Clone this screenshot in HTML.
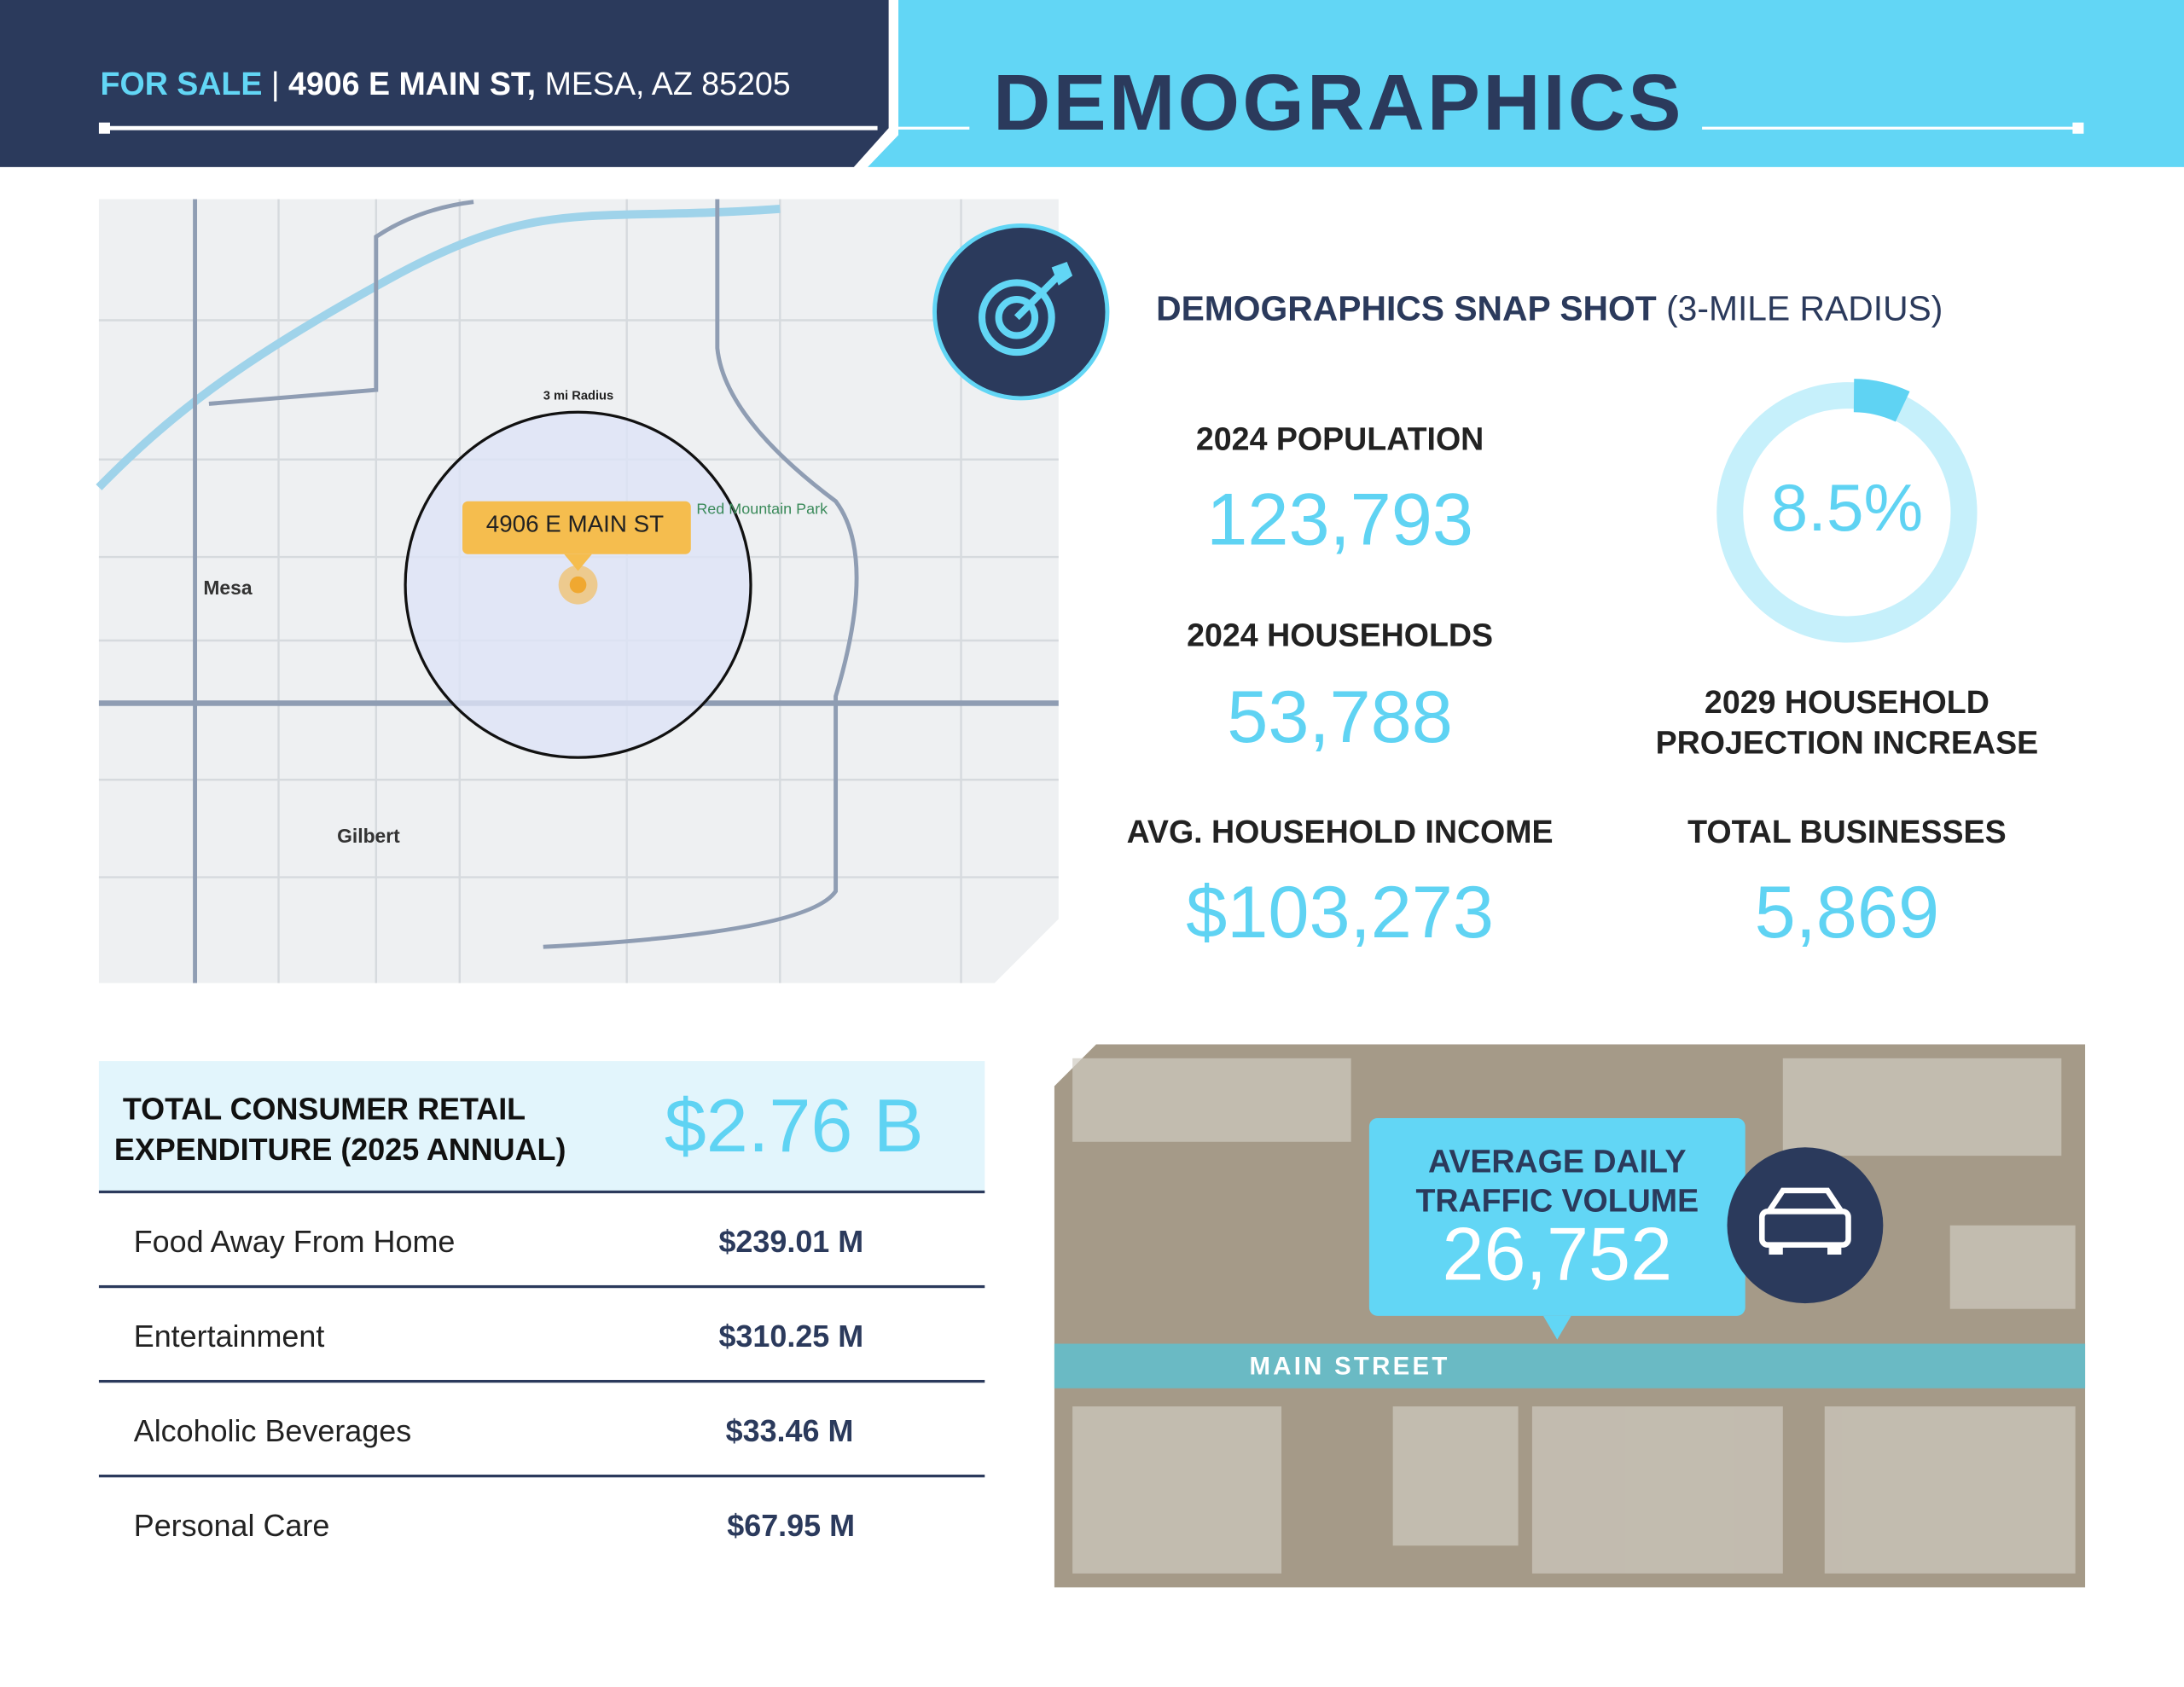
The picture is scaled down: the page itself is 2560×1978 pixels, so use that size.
<!DOCTYPE html>
<html><head><meta charset="utf-8"><style>
*{margin:0;padding:0;box-sizing:border-box}
body{width:2560px;height:1978px;overflow:hidden;background:#fff;font-family:"Liberation Sans",sans-serif}
#s{width:1568px;height:1211px;transform:scale(1.63265);transform-origin:0 0;position:relative}
.a{position:absolute;white-space:nowrap}
.lab{font-weight:bold;color:#222;font-size:23px;text-align:center}
.num{color:#5fd3f3;font-size:53px;text-align:center}
.row{position:absolute;left:71px;width:636px;height:68px;border-bottom:2px solid #2b3a5c;font-size:22px;color:#222}
.row span{position:absolute;top:22px}
.row b{position:absolute;top:22px;left:445px;color:#2b3a5c}
</style></head><body><div id="s">
<svg class="a" style="left:0;top:0" width="1568" height="1211">
<polygon points="0,0 638,0 638,92 613,120 0,120" fill="#2b3a5c"/>
<polygon points="645,0 1568,0 1568,120 623,120 645,97" fill="#62d6f5"/>
<line x1="75" y1="92" x2="630" y2="92" stroke="#fff" stroke-width="3"/>
<rect x="71" y="88" width="8" height="8" fill="#fff"/>
<line x1="640" y1="92" x2="696" y2="92" stroke="#fff" stroke-width="2"/>
<line x1="1222" y1="92" x2="1492" y2="92" stroke="#fff" stroke-width="2"/>
<rect x="1488" y="88" width="8" height="8" fill="#fff"/>
<polygon points="71,143 760,143 760,660 714,706 71,706" fill="#eef0f2"/>
<g stroke="#d6dade" stroke-width="1.5">
<line x1="71" y1="230" x2="760" y2="230"/><line x1="71" y1="330" x2="760" y2="330"/><line x1="71" y1="400" x2="760" y2="400"/><line x1="71" y1="460" x2="760" y2="460"/><line x1="71" y1="560" x2="760" y2="560"/><line x1="71" y1="630" x2="760" y2="630"/>
<line x1="200" y1="143" x2="200" y2="706"/><line x1="270" y1="143" x2="270" y2="706"/><line x1="330" y1="143" x2="330" y2="706"/><line x1="450" y1="143" x2="450" y2="706"/><line x1="560" y1="143" x2="560" y2="706"/><line x1="690" y1="143" x2="690" y2="706"/>
</g>
<path d="M71,350 C120,300 170,260 280,200 S420,160 560,150" stroke="#9fd3ea" stroke-width="6" fill="none"/>
<path d="M71,505 L760,505" stroke="#8f9db3" stroke-width="4"/>
<path d="M140,143 L140,706" stroke="#8f9db3" stroke-width="3"/>
<path d="M515,143 L515,250 Q520,300 600,360 Q630,400 600,500 L600,640 Q580,670 390,680" stroke="#8f9db3" stroke-width="3" fill="none"/>
<path d="M150,290 L270,280 L270,170 Q300,150 340,145" stroke="#8f9db3" stroke-width="3" fill="none"/>
<circle cx="415" cy="420" r="124" fill="#dde3f6" fill-opacity=".8" stroke="#111" stroke-width="2"/>
<circle cx="415" cy="420" r="14" fill="#f5b84a" fill-opacity=".6"/>
<circle cx="415" cy="420" r="6" fill="#f0a830"/>
<rect x="332" y="360" width="164" height="38" rx="4" fill="#f5bd4e"/>
<polygon points="405,398 425,398 415,410" fill="#f5bd4e"/>
<circle cx="733" cy="224" r="62" fill="#2b3a5c" stroke="#62d6f5" stroke-width="3"/>
<g fill="none" stroke="#62d6f5" stroke-width="5"><circle cx="730" cy="228" r="25"/><circle cx="730" cy="228" r="13"/><line x1="730" y1="228" x2="762" y2="196"/></g>
<polygon points="755,192 766,188 770,198 760,205" fill="#62d6f5"/>
<circle cx="1326" cy="368" r="84" fill="none" stroke="#c6f0fb" stroke-width="19"/>
<path d="M1331,284 A84,84 0 0 1 1366,292" fill="none" stroke="#5fd3f3" stroke-width="24"/>
<rect x="71" y="762" width="636" height="94" fill="#e2f5fc"/>
<line x1="71" y1="856" x2="707" y2="856" stroke="#2b3a5c" stroke-width="2"/>
<polygon points="787,750 1497,750 1497,1140 757,1140 757,780" fill="#a59a88"/>
<g fill="#cfcac0" opacity=".7">
<rect x="770" y="760" width="200" height="60"/><rect x="1280" y="760" width="200" height="70"/><rect x="770" y="1010" width="150" height="120"/><rect x="1100" y="1010" width="180" height="120"/><rect x="1310" y="1010" width="180" height="120"/><rect x="1400" y="880" width="90" height="60"/><rect x="1000" y="1010" width="90" height="100"/>
</g>
<rect x="757" y="965" width="740" height="32" fill="#5fbfcf" opacity=".85"/>
<rect x="983" y="803" width="270" height="142" rx="6" fill="#62d6f5"/>
<polygon points="1108,945 1128,945 1118,962" fill="#62d6f5"/>
<circle cx="1296" cy="880" r="56" fill="#2b3a5c"/>
<g fill="none" stroke="#fff" stroke-width="4"><path d="M1270,870 L1280,855 L1312,855 L1322,870 Z"/><rect x="1265" y="870" width="62" height="24" rx="4"/></g>
<rect x="1270" y="893" width="10" height="8" fill="#fff"/><rect x="1312" y="893" width="10" height="8" fill="#fff"/>
</svg>
<div class="a" style="left:72px;top:47px;font-size:23px;color:#fff"><span style="color:#62d6f5;font-weight:bold">FOR SALE</span> | <b>4906 E MAIN ST,</b> MESA, AZ 85205</div>
<div class="a" style="left:713px;top:41px;font-size:57px;font-weight:bold;color:#2b3a5c;letter-spacing:2px">DEMOGRAPHICS</div>
<div class="a" style="left:349px;top:367px;font-size:17px;color:#222">4906 E MAIN ST</div>
<div class="a" style="left:146px;top:414px;font-size:14px;font-weight:bold;color:#333">Mesa</div>
<div class="a" style="left:242px;top:592px;font-size:14px;font-weight:bold;color:#333">Gilbert</div>
<div class="a" style="left:390px;top:279px;font-size:9px;font-weight:bold;color:#222">3 mi Radius</div>
<div class="a" style="left:500px;top:360px;font-size:11px;color:#3a8a5a">Red Mountain Park</div>
<div class="a" style="left:830px;top:208px;font-size:25px;color:#2b3a5c"><b>DEMOGRAPHICS SNAP SHOT</b> (3-MILE RADIUS)</div>
<div class="a lab" style="left:812px;width:300px;top:302px">2024 POPULATION</div>
<div class="a num" style="left:812px;width:300px;top:343px">123,793</div>
<div class="a lab" style="left:812px;width:300px;top:443px">2024 HOUSEHOLDS</div>
<div class="a num" style="left:812px;width:300px;top:485px">53,788</div>
<div class="a lab" style="left:792px;width:340px;top:584px">AVG. HOUSEHOLD INCOME</div>
<div class="a num" style="left:792px;width:340px;top:625px">$103,273</div>
<div class="a num" style="left:1226px;width:200px;top:338px;font-size:48px">8.5%</div>
<div class="a lab" style="left:1176px;width:300px;top:490px;line-height:29px">2029 HOUSEHOLD<br>PROJECTION INCREASE</div>
<div class="a lab" style="left:1176px;width:300px;top:584px">TOTAL BUSINESSES</div>
<div class="a num" style="left:1176px;width:300px;top:625px">5,869</div>
<div class="a" style="left:82px;top:782px;font-size:22px;font-weight:bold;color:#111;line-height:29px">&nbsp;TOTAL CONSUMER RETAIL<br>EXPENDITURE (2025 ANNUAL)</div>
<div class="a" style="left:477px;top:778px;font-size:54px;color:#5fd3f3">$2.76 B</div>
<div class="row" style="top:857px"><span style="left:25px">Food Away From Home</span><b>$239.01 M</b></div>
<div class="row" style="top:925px"><span style="left:25px">Entertainment</span><b>$310.25 M</b></div>
<div class="row" style="top:993px"><span style="left:25px">Alcoholic Beverages</span><b style="left:450px">$33.46 M</b></div>
<div class="row" style="top:1061px;border-bottom:none"><span style="left:25px">Personal Care</span><b style="left:451px">$67.95 M</b></div>
<div class="a" style="left:983px;width:270px;top:820px;text-align:center;font-size:23px;font-weight:bold;color:#2b3a5c;line-height:28px">AVERAGE DAILY<br>TRAFFIC VOLUME</div>
<div class="a" style="left:983px;width:270px;top:870px;text-align:center;font-size:54px;color:#fff">26,752</div>
<div class="a" style="left:897px;top:971px;font-size:18px;font-weight:bold;color:#fff;letter-spacing:2px">MAIN STREET</div>
</div></body></html>
